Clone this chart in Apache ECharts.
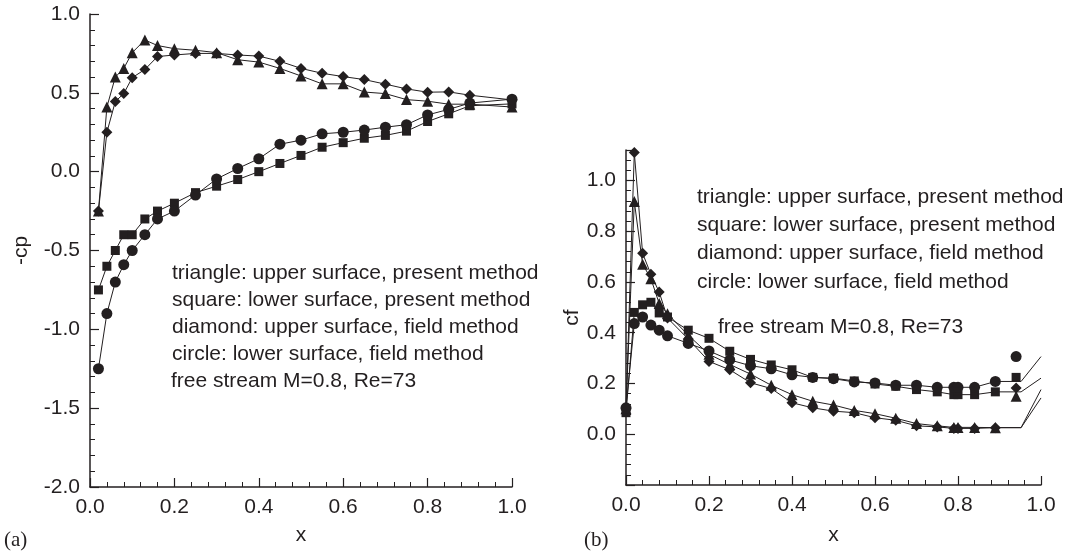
<!DOCTYPE html>
<html>
<head>
<meta charset="utf-8">
<script src="https://cdn.jsdelivr.net/npm/echarts@6/dist/echarts.min.js"></script>
<style>
  html, body { margin: 0; padding: 0; background: #fff; }
  #chart { width: 1072px; height: 551px; }
</style>
</head>
<body>
<div id="chart"></div>
<script>
// (a) pressure coefficient, -cp against x
const cpX = [0.02, 0.04, 0.06, 0.08, 0.10, 0.13, 0.16, 0.20, 0.25, 0.30, 0.35, 0.40, 0.45, 0.50, 0.55, 0.60, 0.65, 0.70, 0.75, 0.80, 0.85, 0.90, 1.0]
const cpTriangle = [-0.25, 0.41, 0.60, 0.655, 0.755, 0.835, 0.80, 0.78, 0.77, 0.755, 0.71, 0.695, 0.655, 0.607, 0.557, 0.557, 0.505, 0.495, 0.457, 0.447, 0.428, 0.428, 0.41]
const cpSquare = [-0.75, -0.60, -0.50, -0.40, -0.40, -0.30, -0.25, -0.20, -0.133, -0.092, -0.05, 0.0, 0.052, 0.103, 0.155, 0.184, 0.212, 0.23, 0.257, 0.318, 0.367, 0.418, 0.43]
const cpDiamond = [-0.25, 0.25, 0.445, 0.495, 0.596, 0.648, 0.73, 0.74, 0.75, 0.75, 0.74, 0.733, 0.70, 0.655, 0.624, 0.603, 0.584, 0.555, 0.525, 0.504, 0.506, 0.485, 0.455]
const cpCircle = [-1.25, -0.90, -0.70, -0.59, -0.50, -0.40, -0.30, -0.25, -0.148, -0.046, 0.02, 0.082, 0.174, 0.20, 0.24, 0.25, 0.264, 0.282, 0.298, 0.36, 0.395, 0.435, 0.46]

// (b) skin friction, cf against x
const cfX = [0, 0.02, 0.04, 0.06, 0.08, 0.10, 0.15, 0.20, 0.25, 0.30, 0.35, 0.40, 0.45, 0.50, 0.55, 0.60, 0.65, 0.70, 0.75, 0.79, 0.80, 0.84, 0.89]
const cfTriangle = [0.10, 0.917, 0.67, 0.613, 0.515, 0.475, 0.39, 0.315, 0.275, 0.237, 0.193, 0.156, 0.13, 0.115, 0.094, 0.081, 0.063, 0.042, 0.033, 0.027, 0.027, 0.027, 0.026]
const cfSquare = [0.085, 0.48, 0.51, 0.52, 0.478, 0.462, 0.41, 0.378, 0.327, 0.295, 0.273, 0.254, 0.224, 0.221, 0.21, 0.198, 0.189, 0.176, 0.167, 0.156, 0.156, 0.156, 0.167]
const cfDiamond = [0.10, 1.11, 0.713, 0.63, 0.56, 0.458, 0.375, 0.287, 0.254, 0.203, 0.18, 0.124, 0.104, 0.091, 0.085, 0.065, 0.055, 0.033, 0.029, 0.023, 0.023, 0.023, 0.026]
const cfCircle = [0.104, 0.436, 0.462, 0.43, 0.41, 0.388, 0.358, 0.328, 0.293, 0.27, 0.258, 0.234, 0.224, 0.219, 0.206, 0.202, 0.193, 0.193, 0.185, 0.185, 0.185, 0.185, 0.208]
// line-only tail near the trailing edge
const cfTailX = [0.952, 1.0]
const cfTailTriangle = [0.026, 0.143]
const cfTailSquare = [0.167, 0.221]
const cfTailDiamond = [0.026, 0.176]
const cfTailCircle = [0.208, 0.306]
// lone markers at the trailing edge
const cfEndX = 0.94
const cfEndTriangle = 0.15
const cfEndSquare = 0.224
const cfEndDiamond = 0.182
const cfEndCircle = 0.306

const notes = [
  'triangle: upper surface, present method',
  'square: lower surface, present method',
  'diamond: upper surface, field method',
  'circle: lower surface, field method'
]
const flowNote = 'free stream M=0.8, Re=73'

const ink = '#231f20'
const font = '"Liberation Sans", Arial, sans-serif'

function pts(xs, ys) {
  return xs.map((x, i) => [x, ys[i]])
}

function axisStyle(fmt) {
  return {
    axisLine: { onZero: false, lineStyle: { color: ink, width: 1.5 } },
    axisTick: { inside: true, length: 9, lineStyle: { color: ink, width: 1.2 } },
    minorTick: { show: true, splitNumber: 5, length: 5, lineStyle: { color: ink, width: 1 } },
    splitLine: { show: false },
    axisLabel: { color: ink, fontSize: 21, fontFamily: font, margin: 10, formatter: fmt },
    nameTextStyle: { color: ink, fontSize: 21, fontFamily: font }
  }
}

const oneDecimal = v => v.toFixed(1)

const shapes = [
  { name: 'triangle', symbol: 'triangle', size: 11 },
  { name: 'square', symbol: 'rect', size: 9 },
  { name: 'diamond', symbol: 'diamond', size: 11 },
  { name: 'circle', symbol: 'circle', size: 11 }
]
const cpSets = [cpTriangle, cpSquare, cpDiamond, cpCircle]
const cfSets = [cfTriangle, cfSquare, cfDiamond, cfCircle]
const cfTails = [cfTailTriangle, cfTailSquare, cfTailDiamond, cfTailCircle]
const cfEnds = [cfEndTriangle, cfEndSquare, cfEndDiamond, cfEndCircle]

const series = []
shapes.forEach((s, i) => {
  series.push({
    name: 'cp ' + s.name,
    type: 'line',
    xAxisIndex: 0,
    yAxisIndex: 0,
    data: pts(cpX, cpSets[i]),
    symbol: s.symbol,
    symbolSize: s.size,
    showAllSymbol: true,
    itemStyle: { color: ink, borderWidth: 0 },
    lineStyle: { color: ink, width: 1 },
    animation: false
  })
  series.push({
    name: 'cf ' + s.name + ' line',
    type: 'line',
    xAxisIndex: 1,
    yAxisIndex: 1,
    data: pts(cfX, cfSets[i]).concat(pts(cfTailX, cfTails[i])),
    showSymbol: false,
    lineStyle: { color: ink, width: 1 },
    animation: false
  })
  series.push({
    name: 'cf ' + s.name,
    type: 'scatter',
    xAxisIndex: 1,
    yAxisIndex: 1,
    data: pts(cfX, cfSets[i]).concat([[cfEndX, cfEnds[i]]]),
    symbol: s.symbol,
    symbolSize: s.size,
    itemStyle: { color: ink, borderWidth: 0, opacity: 1 },
    animation: false
  })
})

const graphic = []
notes.forEach((t, i) => {
  graphic.push({ type: 'text', x: 172, y: 273 + i * 27, style: { text: t, fill: ink, font: '21px ' + font, verticalAlign: 'middle' } })
  graphic.push({ type: 'text', x: 697, y: 197 + i * 28.3, style: { text: t, fill: ink, font: '21px ' + font, verticalAlign: 'middle' } })
})
graphic.push({ type: 'text', x: 171, y: 381, style: { text: flowNote, fill: ink, font: '21px ' + font, verticalAlign: 'middle' } })
graphic.push({ type: 'text', x: 718, y: 327, style: { text: flowNote, fill: ink, font: '21px ' + font, verticalAlign: 'middle' } })
graphic.push({ type: 'text', x: 4, y: 540, style: { text: '(a)', fill: ink, font: '21px "Liberation Serif", serif', verticalAlign: 'middle' } })
graphic.push({ type: 'text', x: 584, y: 540, style: { text: '(b)', fill: ink, font: '21px "Liberation Serif", serif', verticalAlign: 'middle' } })

const chart = echarts.init(document.getElementById('chart'), null, { renderer: 'canvas' })
chart.setOption({
  backgroundColor: '#fff',
  animation: false,
  grid: [
    { left: 90, top: 14, width: 422, height: 478 },
    { left: 626, top: 150, width: 415, height: 338 }
  ],
  xAxis: [
    Object.assign({
      type: 'value', gridIndex: 0, min: 0, max: 1, interval: 0.2,
      name: 'x', nameLocation: 'middle', nameGap: 38
    }, axisStyle(oneDecimal)),
    Object.assign({
      type: 'value', gridIndex: 1, min: 0, max: 1, interval: 0.2,
      name: 'x', nameLocation: 'middle', nameGap: 40
    }, axisStyle(oneDecimal))
  ],
  yAxis: [
    Object.assign({
      type: 'value', gridIndex: 0, min: -2, max: 1, interval: 0.5,
      name: '-cp', nameLocation: 'middle', nameGap: 58, nameRotate: 90
    }, axisStyle(oneDecimal)),
    Object.assign({
      type: 'value', gridIndex: 1, min: -0.2, max: 1.12, interval: 0.2,
      name: 'cf', nameLocation: 'middle', nameGap: 43, nameRotate: 90
    }, axisStyle(v => (v < -0.05 || v > 1.05) ? '' : v.toFixed(1)))
  ],
  graphic: graphic,
  series: series
})
</script>
</body>
</html>
